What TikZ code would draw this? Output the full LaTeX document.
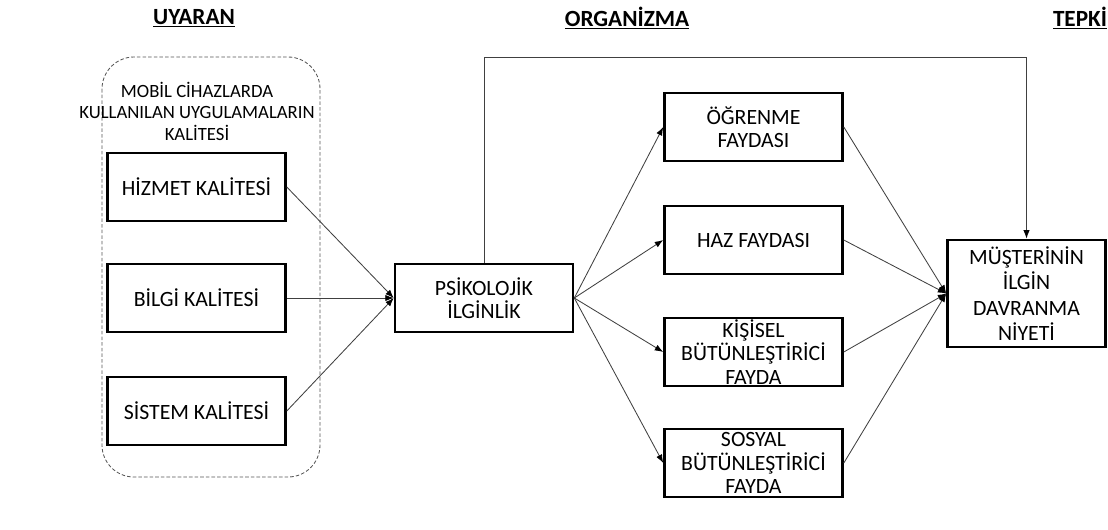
\documentclass[tikz,border=0pt]{standalone}
\usepackage{fontspec}
\setmainfont{Carlito}
\usetikzlibrary{arrows.meta}
\definecolor{line-gray}{HTML}{404040}
\definecolor{frame-gray}{HTML}{555555}

\begin{document}
\begin{tikzpicture}[x=0.025cm, y=-0.025cm,
      every node/.style={font=\fontsize{15.5}{16.5}\selectfont},
      box/.style={draw=black, line width=1.8pt, fill=white,
          minimum width=4.45cm, minimum height=1.7cm, align=center,
          inner sep=1pt},
      header/.style={font=\fontsize{16.5}{18}\selectfont\bfseries},
      link/.style={draw=line-gray, line width=0.6pt},
      arr/.style={link, -{Latex[length=6pt, width=4.5pt, color=black]}}]
    \useasboundingbox (0,0) rectangle (1108,529);

    % headers
    \node[header] (uyaran) at (194,18) {\underline{UYARAN}};
    \node[header] (organizma) at (627,18) {\underline{ORGANİZMA}};
    \node[header] (tepki) at (1080,18) {\underline{TEPKİ}};

    % stimulus group
    \draw[frame-gray, line width=0.6pt, dash pattern=on 2.5pt off 1.5pt,
          rounded corners=0.8cm] (102,57) rectangle (320,477);
    \node[align=center, font=\fontsize{13.3}{15.3}\selectfont] (mobil) at (197,111)
          {MOBİL CİHAZLARDA\\KULLANILAN UYGULAMALARIN\\KALİTESİ};
    \node[box] (hizmet) at (196.5,187) {HİZMET KALİTESİ};
    \node[box] (bilgi) at (196.5,298) {BİLGİ KALİTESİ};
    \node[box] (sistem) at (196.5,411) {SİSTEM KALİTESİ};

    % organism
    \node[box] (psiko) at (484,298) {PSİKOLOJİK\\İLGİNLİK};
    \node[box] (ogrenme) at (753.5,127) {ÖĞRENME\\FAYDASI};
    \node[box] (haz) at (753.5,240) {HAZ FAYDASI};
    \node[box] (kisisel) at (753.5,352) {KİŞİSEL\\BÜTÜNLEŞTİRİCİ\\FAYDA};
    \node[box] (sosyal) at (753.5,463) {SOSYAL\\BÜTÜNLEŞTİRİCİ\\FAYDA};

    % response
    \node[box, minimum width=3.95cm, minimum height=2.68cm,
          font=\fontsize{15.5}{18}\selectfont] (niyet) at (1026.5,293.5)
          {MÜŞTERİNİN\\İLGİN\\DAVRANMA\\NİYETİ};

    \coordinate (loop) at (1026.5,57);

    \draw[arr] (hizmet.east) -- (psiko.west);
    \draw[arr] (bilgi.east) -- (psiko.west);
    \draw[arr] (sistem.east) -- (psiko.west);

    \draw[arr] (psiko.east) -- (ogrenme.west);
    \draw[arr] (psiko.east) -- (haz.west);
    \draw[arr] (psiko.east) -- (kisisel.west);
    \draw[arr] (psiko.east) -- (sosyal.west);

    \draw[arr] (ogrenme.east) -- (niyet.west);
    \draw[arr] (haz.east) -- (niyet.west);
    \draw[arr] (kisisel.east) -- (niyet.west);
    \draw[arr] (sosyal.east) -- (niyet.west);

    \draw[arr] (psiko.north) |- (loop) -- (niyet.north);
  \end{tikzpicture}
\end{document}
